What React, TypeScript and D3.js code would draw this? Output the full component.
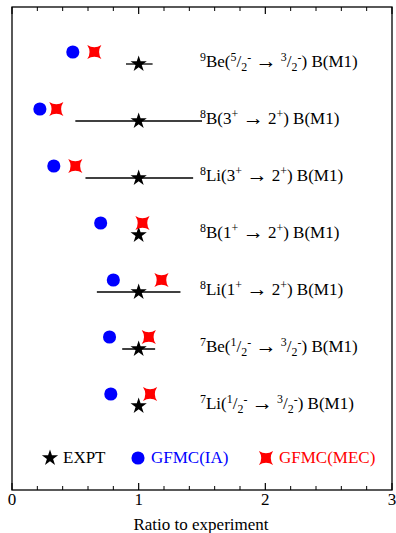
import React, { useEffect } from "react";
import * as d3 from "d3";

// rows, top to bottom; ^{..} superscript, _{..} subscript
const transitions = [
  "^{9}Be(^{5}/_{2}^{-} → ^{3}/_{2}^{-}) B(M1)",
  "^{8}B(3^{+} → 2^{+}) B(M1)",
  "^{8}Li(3^{+} → 2^{+}) B(M1)",
  "^{8}B(1^{+} → 2^{+}) B(M1)",
  "^{8}Li(1^{+} → 2^{+}) B(M1)",
  "^{7}Be(^{1}/_{2}^{-} → ^{3}/_{2}^{-}) B(M1)",
  "^{7}Li(^{1}/_{2}^{-} → ^{3}/_{2}^{-}) B(M1)",
];
const expt = [1, 1, 1, 1, 1, 1, 1];
const exptLo: (number | null)[] = [0.9, 0.5, 0.58, null, 0.67, 0.87, null];
const exptHi: (number | null)[] = [1.11, 1.5, 1.43, null, 1.33, 1.13, null];
const gfmcIA = [0.48, 0.22, 0.33, 0.7, 0.8, 0.77, 0.78];
const gfmcMEC = [0.65, 0.35, 0.5, 1.03, 1.18, 1.08, 1.09];
const majorTicks = [0, 1, 2, 3];
const legendLabels = ["EXPT", "GFMC(IA)", "GFMC(MEC)"];

const W = 396;
const H = 533;
const font = "'Liberation Serif', 'Times New Roman', serif";

// four-pointed concave star used for GFMC(MEC)
const symbolAstroid = {
  draw(ctx: any, size: number) {
    const h = Math.sqrt(size) / 2;
    const k = h * 0.35;
    ctx.moveTo(-h, -h);
    ctx.quadraticCurveTo(0, -k, h, -h);
    ctx.quadraticCurveTo(k, 0, h, h);
    ctx.quadraticCurveTo(0, k, -h, h);
    ctx.quadraticCurveTo(-k, 0, -h, -h);
    ctx.closePath();
  },
};

type Part = { t: string; k: "n" | "sup" | "sub" | "arrow" };

function parseLabel(s: string) {
  const parts: Part[] = [];
  const re = /([\^_])\{([^}]*)\}|(→)|([^\^_→]+)/g;
  let m;
  while ((m = re.exec(s))) {
    if (m[1]) parts.push({ t: m[2], k: m[1] === "^" ? "sup" : "sub" });
    else if (m[3]) parts.push({ t: m[3], k: "arrow" });
    else parts.push({ t: m[4], k: "n" });
  }
  return parts;
}

function RichLabel({ x, y, text, size }: { x: number; y: number; text: string; size: number }) {
  const parts = parseLabel(text);
  let cur = 0;
  return (
    <text x={x} y={y} fontFamily={font} fontSize={size} fill="black" style={{ whiteSpace: "pre" }}>
      {parts.map((p, i) => {
        const target = p.k === "sup" ? -size * 0.38 : p.k === "sub" ? size * 0.22 : p.k === "arrow" ? size * 0.05 : 0;
        const dy = target - cur;
        cur = target;
        return (
          <tspan key={i} dy={dy} fontSize={p.k === "n" ? size : p.k === "arrow" ? size * 1.25 : size * 0.7}>
            {p.t}
          </tspan>
        );
      })}
    </text>
  );
}

export default function App() {
  useEffect(() => {
    document.body.style.margin = "0";
  }, []);

  const left = 12, right = 392, top = 7, bottom = 490;
  const x = d3.scaleLinear().domain([0, 3]).range([left, right]);
  const y = d3.scaleLinear().domain([0, transitions.length - 1]).range([64, 406]);
  const theoryOffset = -12;
  const minorTicks = d3.range(0, 3.0001, 0.2).filter((t) => Math.abs(t - Math.round(t)) > 1e-6);

  const star = d3.symbol(d3.symbolStar, 82)()!;
  const circle = d3.symbol(d3.symbolCircle, 135)()!;
  const mec = d3.symbol(symbolAstroid as any, 200)()!;

  const legendY = 458;
  const legendX = [50, 138, 266];
  const legendColors = ["black", "#0000ff", "#ff0000"];
  const legendPaths = [star, circle, mec];

  return (
    <svg width={W} height={H} style={{ display: "block" }}>
      <rect width={W} height={H} fill="white" />
      <rect x={left} y={top} width={right - left} height={bottom - top} fill="none" stroke="black" strokeWidth={1.3} />

      {/* ticks */}
      {majorTicks.map((t) => (
        <g key={"M" + t}>
          <line x1={x(t)} x2={x(t)} y1={bottom} y2={bottom - 7} stroke="black" strokeWidth={1.2} />
          <line x1={x(t)} x2={x(t)} y1={top} y2={top + 7} stroke="black" strokeWidth={1.2} />
          <text x={x(t)} y={505} textAnchor="middle" fontFamily={font} fontSize={17}>
            {t}
          </text>
        </g>
      ))}
      {minorTicks.map((t, i) => (
        <g key={"m" + i}>
          <line x1={x(t)} x2={x(t)} y1={bottom} y2={bottom - 4} stroke="black" strokeWidth={1} />
          <line x1={x(t)} x2={x(t)} y1={top} y2={top + 4} stroke="black" strokeWidth={1} />
        </g>
      ))}
      <text x={(left + right) / 2 - 1} y={530} textAnchor="middle" fontFamily={font} fontSize={17}>
        Ratio to experiment
      </text>

      {/* rows */}
      {transitions.map((label, i) => (
        <g key={i}>
          {exptLo[i] != null && exptHi[i] != null && (
            <line x1={x(exptLo[i]!)} x2={x(exptHi[i]!)} y1={y(i)} y2={y(i)} stroke="black" strokeWidth={1.3} />
          )}
          <path d={star} transform={`translate(${x(expt[i])},${y(i)})`} fill="black" />
          <path d={circle} transform={`translate(${x(gfmcIA[i])},${y(i) + theoryOffset})`} fill="#0000ff" />
          <path d={mec} transform={`translate(${x(gfmcMEC[i])},${y(i) + theoryOffset})`} fill="#ff0000" />
          <RichLabel x={200} y={y(i) + 3} text={label} size={17} />
        </g>
      ))}

      {/* legend */}
      {legendLabels.map((l, i) => (
        <g key={l}>
          <path d={legendPaths[i]} transform={`translate(${legendX[i]},${legendY})`} fill={legendColors[i]} />
          <text x={legendX[i] + 13} y={legendY + 5} fontFamily={font} fontSize={17} fill={legendColors[i]}>
            {l}
          </text>
        </g>
      ))}
    </svg>
  );
}
